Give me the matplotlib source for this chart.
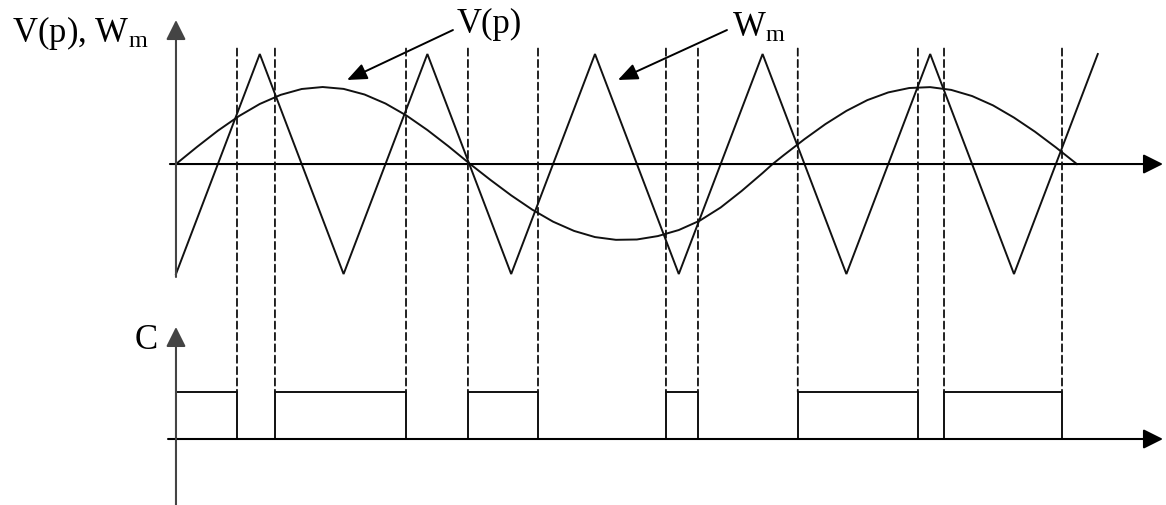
import matplotlib
matplotlib.use("Agg")
import matplotlib.pyplot as plt
from matplotlib.patches import ConnectionPatch

plt.rcParams['font.family'] = ['Liberation Serif', 'DejaVu Serif']
plt.rcParams['mathtext.fontset'] = 'custom'
plt.rcParams['mathtext.rm'] = 'Liberation Serif'
plt.rcParams['mathtext.it'] = 'Liberation Serif:italic'

# ---- data (x in units of half a carrier period) ----
# triangular carrier W_m: vertices
tri_x = [0, 1, 2, 3, 4, 5, 6, 7, 8, 9, 10, 11]
tri_y = [-1, 1, -1, 1, -1, 1, -1, 1, -1, 1, -1, 1]

# reference V(p): points
sin_x = [0, 0.25, 0.5, 0.75, 1.0, 1.25, 1.5, 1.75, 2.0, 2.25, 2.5, 2.75, 3.0, 3.25, 3.51,
         3.75, 4.0, 4.25, 4.5, 4.75, 5.0, 5.25, 5.5, 5.75, 6.0, 6.25, 6.5, 6.75, 7.0, 7.12,
         7.25, 7.5, 7.75, 8.0, 8.25, 8.5, 8.75, 9.0, 9.25, 9.5, 9.75, 10.0, 10.25, 10.5, 10.75]
sin_y = [0, 0.155, 0.303, 0.435, 0.546, 0.629, 0.682, 0.700, 0.683, 0.632, 0.550, 0.441, 0.309, 0.162, 0,
         -0.143, -0.285, -0.414, -0.524, -0.608, -0.664, -0.689, -0.686, -0.655, -0.600, -0.515, -0.395, -0.245, -0.082, 0,
         0.079, 0.226, 0.363, 0.483, 0.581, 0.651, 0.691, 0.699, 0.674, 0.618, 0.533, 0.422, 0.294, 0.151, 0]

# comparator output C: switching instants and levels
switch_x = [0.728, 1.181, 2.745, 3.484, 4.32, 5.847, 6.229, 7.42, 8.854, 9.165, 10.573]
c_levels = [1, 0, 1, 0, 1, 0, 1, 0, 1, 0, 1, 0]

label_top = "V(p), W$_{\\mathrm{m}}$"
label_vp = "V(p)"
label_wm = "W$_{\\mathrm{m}}$"
label_c = "C"

# ---- figure ----
fig = plt.figure(figsize=(11.66, 5.05), dpi=100)
ax1 = fig.add_axes([0, 205 / 505, 1, 300 / 505])
ax2 = fig.add_axes([0, 0, 1, 205 / 505])
for ax in (ax1, ax2):
    ax.set_axis_off()
    ax.set_xlim(-2.100, 11.814)
ax1.set_ylim(-1.236, 1.491)
ax2.set_ylim(-1.404, 2.957)

ax_style = dict(arrowstyle='-|>,head_length=0.6,head_width=0.3', color='black',
                lw=1.5, shrinkA=0, shrinkB=0, mutation_scale=20)
vax_style = dict(ax_style, color='#444444')

# top axes
ax1.annotate('', xy=(11.778, 0), xytext=(-0.072, 0), arrowprops=ax_style)
ax1.annotate('', xy=(0, 1.309), xytext=(0, -1.027), arrowprops=vax_style)
# bottom axes
ax2.annotate('', xy=(11.778, 0), xytext=(-0.095, 0), arrowprops=ax_style)
ax2.annotate('', xy=(0, 2.383), xytext=(0, -1.404), arrowprops=vax_style)

# waves
ax1.plot(tri_x, tri_y, color='#111111', lw=1.4, solid_joinstyle='miter')
ax1.plot(sin_x, sin_y, color='#111111', lw=1.4)

# comparator output
step_x = [0] + switch_x
ax2.step(step_x, c_levels, where='post', color='#111111', lw=1.4)

# dashed projection lines
for xs in switch_x:
    con = ConnectionPatch(xyA=(xs, 1.05), coordsA=ax1.transData,
                          xyB=(xs, 1.0), coordsB=ax2.transData,
                          color='#111111', lw=1.3, linestyle=(0, (4, 2.3)))
    fig.add_artist(con)

# labels
fs = 25
ax1.text(-1.957, 1.19, label_top, fontsize=fs, ha='left', va='center')
ax1.text(3.353, 1.264, label_vp, fontsize=fs, ha='left', va='center')
ax1.text(6.635, 1.236, label_wm, fontsize=fs, ha='left', va='center')
ax2.text(-0.215, 2.106, label_c, fontsize=fs, ha='right', va='center')

ann_style = dict(arrowstyle='-|>,head_length=0.6,head_width=0.25', color='black',
                 lw=1.4, shrinkA=0, shrinkB=0, mutation_scale=20)
ax1.annotate('', xy=(2.041, 0.764), xytext=(3.305, 1.218), arrowprops=ann_style)
ax1.annotate('', xy=(5.274, 0.764), xytext=(6.575, 1.218), arrowprops=ann_style)

fig.savefig('out.png', dpi=100)
